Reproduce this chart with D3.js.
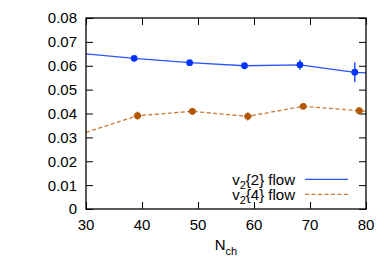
<!DOCTYPE html>
<html><head><meta charset="utf-8">
<script src="https://cdn.jsdelivr.net/npm/d3@7"></script>
<style>
html,body{margin:0;padding:0;background:#fff;}
svg text{font-family:"Liberation Sans",Arial,Helvetica,sans-serif;fill:#000;}
</style></head>
<body><svg id="c" width="389" height="273"></svg>
<script>
// Data
const xTicks = [30, 40, 50, 60, 70, 80];
const yTicks = [0, 0.01, 0.02, 0.03, 0.04, 0.05, 0.06, 0.07, 0.08];
const yTickLabels = ["0", "0.01", "0.02", "0.03", "0.04", "0.05", "0.06", "0.07", "0.08"];

// flow curves (lines)
const flow2X = [30, 38.6, 48.5, 58.3, 68.2, 78.0, 80];
const flow2Y = [0.0650, 0.0631, 0.0613, 0.0600, 0.0604, 0.0572, 0.0570];
const flow4X = [30, 39.2, 49.0, 58.9, 68.8, 78.8, 80];
const flow4Y = [0.0321, 0.0391, 0.0409, 0.0388, 0.0430, 0.0412, 0.0410];

// data points with errors
const v22X = [38.6, 48.5, 58.3, 68.2, 78.0];
const v22Y = [0.0631, 0.0613, 0.0600, 0.0604, 0.0573];
const v22Err = [0.0007, 0.0007, 0.0008, 0.0021, 0.0041];
const v24X = [39.2, 49.0, 58.9, 68.8, 78.8];
const v24Y = [0.0391, 0.0409, 0.0388, 0.0430, 0.0412];
const v24Err = [0.0017, 0.0014, 0.0017, 0.0010, 0.0013];
const v24XErr = [0.7, 0.7, 0.7, 0.7, 0.7];

const legendLabels = ["2", "4"];

const svg = d3.select("#c");
const L = 86, R = 366, T = 18, B = 209;
const x = d3.scaleLinear().domain([30, 80]).range([L, R]);
const y = d3.scaleLinear().domain([0, 0.08]).range([B, T]);

const blueLine = "#2a55ff", bluePt = "#0033ff";
const orLine = "#c97a35", orPt = "#b35600";

// axes ticks (inward) using d3 axes
const tickLen = 7;
const axL = svg.append("g").attr("transform", `translate(${L},0)`)
  .call(d3.axisRight(y).tickValues(yTicks).tickSize(tickLen).tickFormat(""));
const axR = svg.append("g").attr("transform", `translate(${R},0)`)
  .call(d3.axisLeft(y).tickValues(yTicks).tickSize(tickLen).tickFormat(""));
const axB = svg.append("g").attr("transform", `translate(0,${B})`)
  .call(d3.axisTop(x).tickValues(xTicks).tickSize(tickLen).tickFormat(""));
const axT = svg.append("g").attr("transform", `translate(0,${T})`)
  .call(d3.axisBottom(x).tickValues(xTicks).tickSize(tickLen).tickFormat(""));
[axL, axR, axB, axT].forEach(g => {
  g.select(".domain").remove();
  g.selectAll("line").attr("stroke", "#000").attr("stroke-width", 1);
});

// tick labels
svg.append("g").selectAll("text").data(yTicks).join("text")
  .attr("x", 77).attr("y", d => y(d)).attr("dy", "0.36em")
  .attr("text-anchor", "end").attr("font-size", 15)
  .text((d, i) => yTickLabels[i]);
svg.append("g").selectAll("text").data(xTicks).join("text")
  .attr("x", d => x(d)).attr("y", 229.5)
  .attr("text-anchor", "middle").attr("font-size", 15)
  .text(d => d);

// axis title
const xt = svg.append("text").attr("x", 226).attr("y", 249.5)
  .attr("text-anchor", "middle").attr("font-size", 15);
xt.append("tspan").text("N");
xt.append("tspan").attr("font-size", 11).attr("dy", 5).text("ch");

// clip
svg.append("clipPath").attr("id", "clip").append("rect")
  .attr("x", L).attr("y", T).attr("width", R - L).attr("height", B - T);
const plot = svg.append("g").attr("clip-path", "url(#clip)");

const line = d3.line().x(d => x(d[0])).y(d => y(d[1]));
plot.append("path").datum(flow2X.map((v, i) => [v, flow2Y[i]]))
  .attr("d", line).attr("fill", "none").attr("stroke", blueLine).attr("stroke-width", 1.3);
plot.append("path").datum(flow4X.map((v, i) => [v, flow4Y[i]]))
  .attr("d", line).attr("fill", "none").attr("stroke", orLine).attr("stroke-width", 1.3)
  .attr("stroke-dasharray", "4,2.5");

// points with error bars
function drawPts(xs, ys, es, xes, col) {
  const g = plot.append("g");
  xs.forEach((xv, i) => {
    g.append("line").attr("x1", x(xv)).attr("x2", x(xv))
      .attr("y1", y(ys[i] - es[i])).attr("y2", y(ys[i] + es[i]))
      .attr("stroke", col).attr("stroke-width", 1.3);
    if (xes) {
      g.append("line").attr("x1", x(xv - xes[i])).attr("x2", x(xv + xes[i]))
        .attr("y1", y(ys[i])).attr("y2", y(ys[i]))
        .attr("stroke", col).attr("stroke-width", 1.3);
    }
    g.append("circle").attr("cx", x(xv)).attr("cy", y(ys[i])).attr("r", 3.4).attr("fill", col);
  });
}
drawPts(v22X, v22Y, v22Err, null, bluePt);
drawPts(v24X, v24Y, v24Err, v24XErr, orPt);

// frame
svg.append("rect").attr("x", L).attr("y", T).attr("width", R - L).attr("height", B - T)
  .attr("fill", "none").attr("stroke", "#000").attr("stroke-width", 1.3);

// legend
const legRows = [179.3, 194.3];
legendLabels.forEach((lab, i) => {
  const t = svg.append("text").attr("x", 295).attr("y", legRows[i]).attr("dy", "0.36em")
    .attr("text-anchor", "end").attr("font-size", 15);
  t.append("tspan").text("v");
  t.append("tspan").attr("font-size", 11).attr("dy", 4).text("2");
  t.append("tspan").attr("dy", -4).text("{" + lab + "} flow");
  svg.append("line").attr("x1", 305).attr("x2", 348).attr("y1", legRows[i]).attr("y2", legRows[i])
    .attr("stroke", i === 0 ? blueLine : orLine).attr("stroke-width", 1.3)
    .attr("stroke-dasharray", i === 0 ? null : "4,2.5");
});
</script></body></html>
